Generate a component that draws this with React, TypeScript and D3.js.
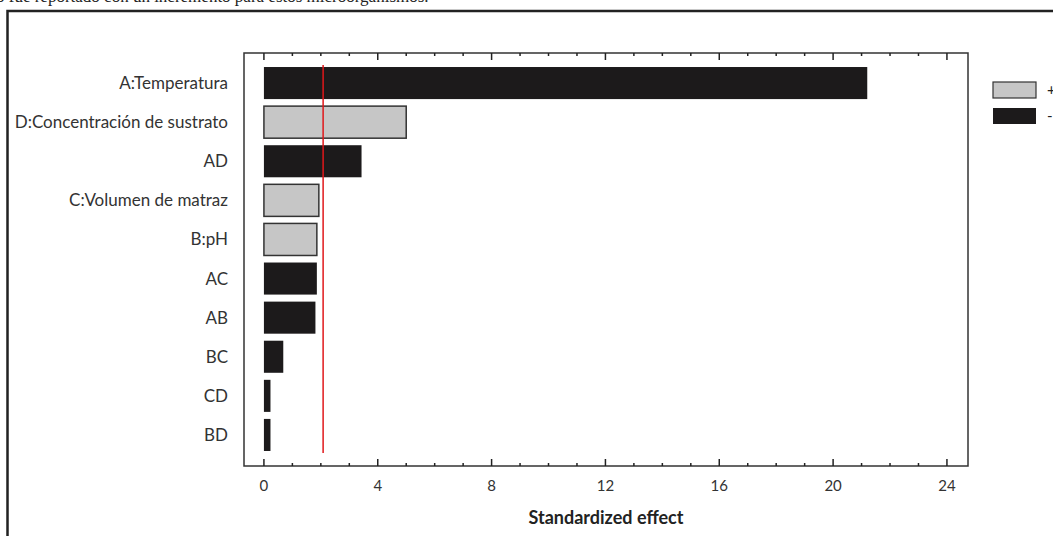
import React, {useEffect, useRef} from 'react';
import * as d3 from 'd3';

// factors ordered as in the pareto chart (top to bottom)
const factors = ['A:Temperatura', 'D:Concentración de sustrato', 'AD', 'C:Volumen de matraz', 'B:pH', 'AC', 'AB', 'BC', 'CD', 'BD'];
const effects = [21.2, 5.0, 3.43, 1.93, 1.86, 1.86, 1.81, 0.68, 0.23, 0.23];
const signs = ['-', '+', '-', '+', '+', '-', '-', '-', '-', '-'];
const xTicks = [0, 4, 8, 12, 16, 20, 24];
const criticalT = 2.08;
const legendItems = ['+', '-'];

const width = 1053;
const height = 536;

const App = () => {
    const svgRef = useRef<SVGSVGElement>(null);

    useEffect(() => {
        const svg = d3.select(svgRef.current);
        svg.selectAll('*').remove();

        const box = {left: 244, right: 968, top: 53, bottom: 466};
        const x = d3.scaleLinear().domain([-0.7, 24.74]).range([box.left, box.right]);
        const y = d3.scaleBand<string>().domain(factors)
            .range([63.5, 454.5]).paddingInner(0.18).paddingOuter(0.09);

        // scrap of the page text above the figure
        svg.append('text')
            .attr('x', -4).attr('y', 2)
            .style('font-family', '"Liberation Serif", serif')
            .style('font-size', 17)
            .attr('fill', '#222')
            .text('o fue reportado con un incremento para estos microorganismos.');

        // outer frame of the figure
        svg.append('rect')
            .attr('x', 7.5).attr('y', 11)
            .attr('width', width).attr('height', height)
            .attr('fill', 'none').attr('stroke', '#222').attr('stroke-width', 2.5);

        // plot box
        svg.append('rect')
            .attr('x', box.left).attr('y', box.top)
            .attr('width', box.right - box.left).attr('height', box.bottom - box.top)
            .attr('fill', 'none').attr('stroke', '#333').attr('stroke-width', 1.5);

        // ticks on bottom and top, pointing inward
        const minor = d3.range(0, 25, 1);
        const tickG = svg.append('g').attr('stroke', '#222').attr('stroke-width', 1.5);
        minor.forEach(v => {
            const len = v % 4 === 0 ? 7 : 3;
            tickG.append('line').attr('x1', x(v)).attr('x2', x(v))
                .attr('y1', box.bottom).attr('y2', box.bottom - len);
            tickG.append('line').attr('x1', x(v)).attr('x2', x(v))
                .attr('y1', box.top).attr('y2', box.top + len);
        });

        svg.append('g').selectAll('text').data(xTicks).enter().append('text')
            .attr('x', d => x(d)).attr('y', 491)
            .attr('text-anchor', 'middle')
            .style('font-family', 'Lato, sans-serif').style('font-size', 15)
            .attr('fill', '#333')
            .text(d => d);

        svg.append('text')
            .attr('x', (box.left + box.right) / 2).attr('y', 524)
            .attr('text-anchor', 'middle')
            .style('font-family', 'Lato, sans-serif').style('font-size', 18)
            .style('font-weight', 'bold')
            .attr('fill', '#222')
            .text('Standardized effect');

        // bars
        svg.append('g').selectAll('rect').data(factors).enter().append('rect')
            .attr('x', x(0))
            .attr('y', d => y(d)!)
            .attr('width', (d, i) => x(effects[i]) - x(0))
            .attr('height', y.bandwidth())
            .attr('fill', (d, i) => signs[i] === '+' ? '#c6c6c6' : '#1c1a1b')
            .attr('stroke', (d, i) => signs[i] === '+' ? '#333' : 'none')
            .attr('stroke-width', 1.5);

        // category labels
        svg.append('g').selectAll('text').data(factors).enter().append('text')
            .attr('x', 228)
            .attr('y', d => y(d)! + y.bandwidth() / 2 + 6)
            .attr('text-anchor', 'end')
            .style('font-family', 'Lato, sans-serif').style('font-size', 17)
            .attr('fill', '#333')
            .text(d => d);

        // critical value line
        svg.append('line')
            .attr('x1', x(criticalT)).attr('x2', x(criticalT))
            .attr('y1', 65).attr('y2', 453)
            .attr('stroke', '#e0181b').attr('stroke-width', 1.5);

        // legend
        const lg = svg.append('g');
        legendItems.forEach((s, i) => {
            lg.append('rect')
                .attr('x', 993).attr('y', 82 + i * 26)
                .attr('width', 43).attr('height', 16)
                .attr('fill', s === '+' ? '#c6c6c6' : '#1c1a1b')
                .attr('stroke', s === '+' ? '#333' : 'none').attr('stroke-width', 1.2);
            lg.append('text')
                .attr('x', 1047).attr('y', 90 + i * 26 + 5)
                .style('font-family', 'Lato, sans-serif').style('font-size', 15)
                .attr('fill', '#222')
                .text(s);
        });
    }, []);

    return <svg ref={svgRef} width={width} height={height}
                style={{position: 'absolute', left: 0, top: 0, background: '#fff'}}/>;
};

export default App;
